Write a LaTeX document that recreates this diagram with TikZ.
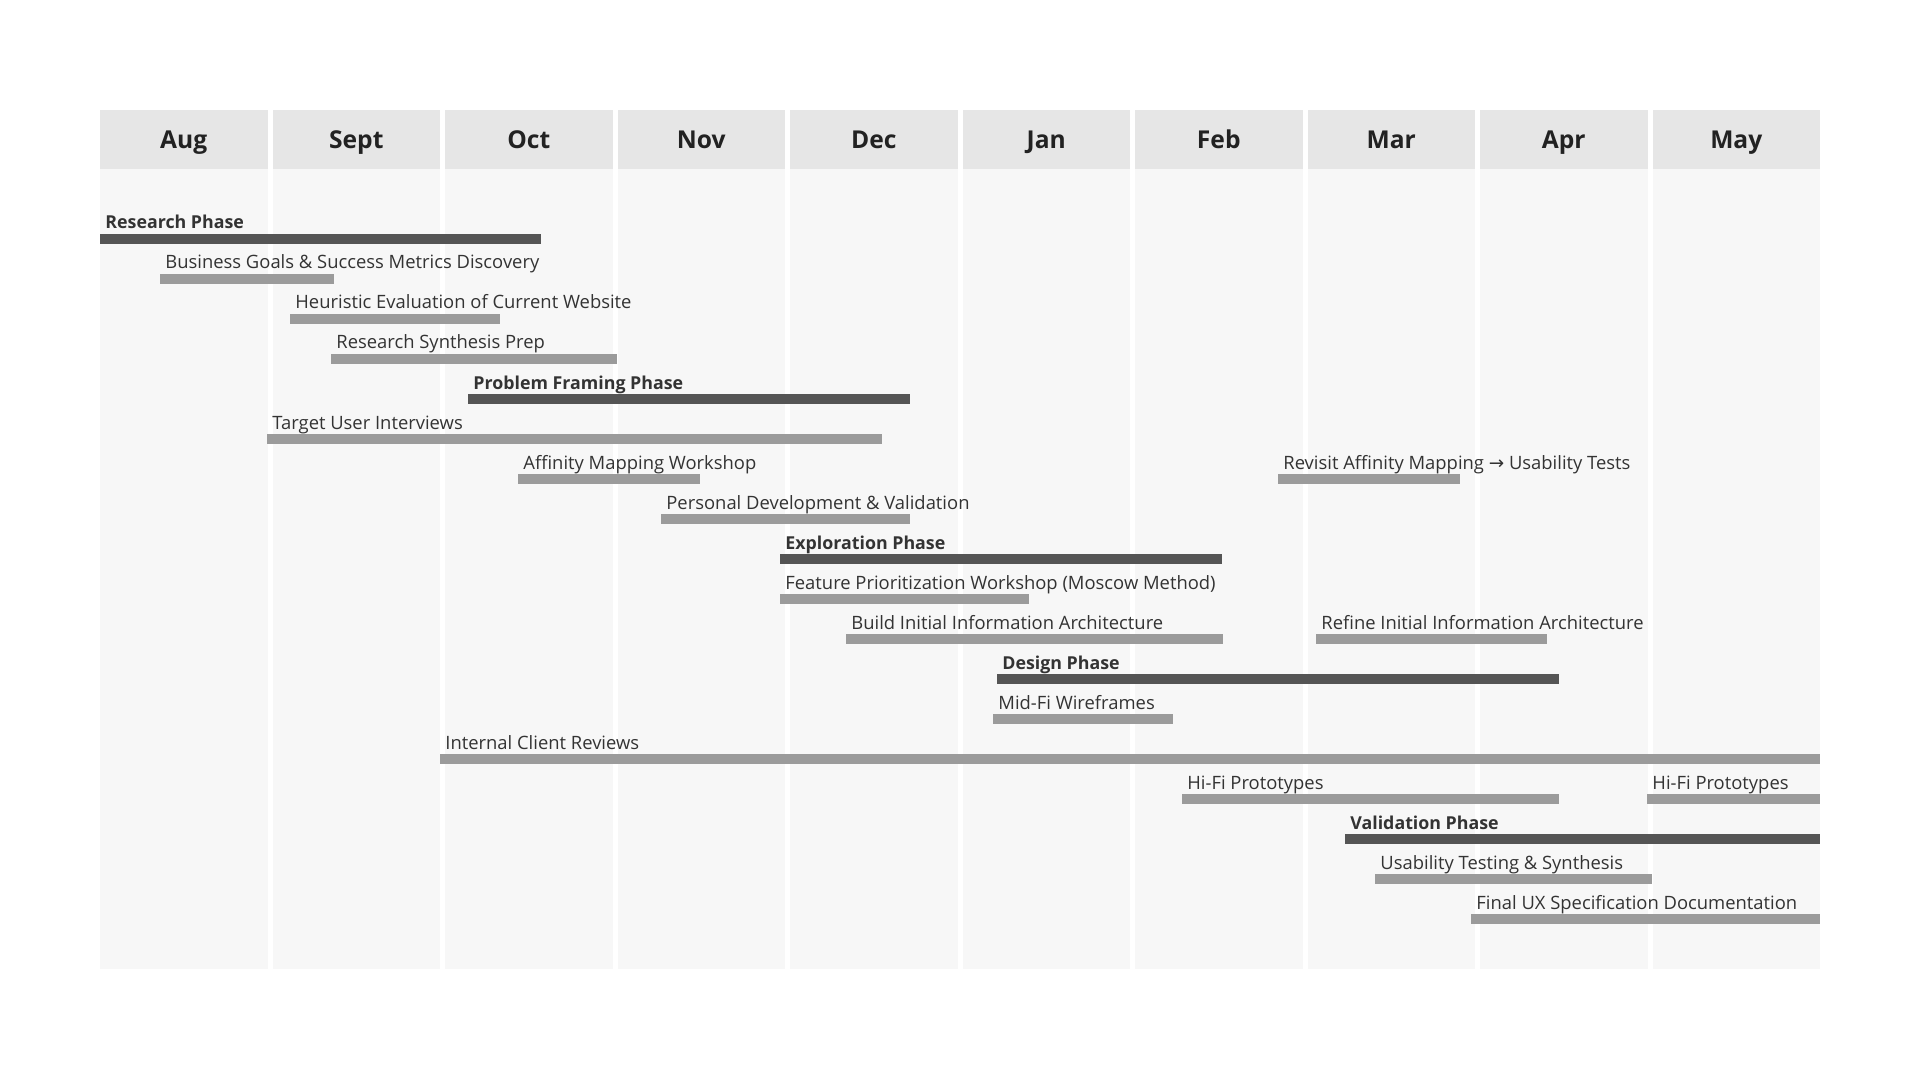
\documentclass[tikz,border=0pt]{standalone}
\usepackage{fontspec}
\setmainfont{Open Sans}
\newfontfamily\arrowfont{DejaVu Sans}
\usepackage{xcolor}
\definecolor{cHead}{HTML}{E6E6E6}
\definecolor{cBody}{HTML}{F7F7F7}
\definecolor{cPhase}{HTML}{555555}
\definecolor{cTask}{HTML}{9B9B9B}
\definecolor{cText}{HTML}{333333}
\definecolor{cMonth}{HTML}{222222}
\usepackage{tikz}
\tikzset{
  col-head/.style={fill=cHead},
  col-body/.style={fill=cBody},
  month-label/.style={anchor=base,inner sep=0pt,
    font=\fontsize{12.3}{14}\selectfont\bfseries,text=cMonth},
  bar-phase/.style={fill=cPhase},
  bar-task/.style={fill=cTask},
  label-phase/.style={anchor=base west,inner sep=0pt,
    font=\fontsize{8.9}{11}\selectfont\bfseries,text=cText},
  label-task/.style={anchor=base west,inner sep=0pt,
    font=\fontsize{9.2}{11}\selectfont,text=cText},
}

\begin{document}
\begin{tikzpicture}[x=0.5pt,y=-0.5pt]
  \fill[white] (0,0) rectangle (1920,1080);
  \useasboundingbox (0,0) rectangle (1920,1080);
  % month columns
  \foreach \m [count=\i from 0] in {Aug,Sept,Oct,Nov,Dec,Jan,Feb,Mar,Apr,May} {
    \fill[col-body] ({100+172.5*\i},169) rectangle +(167.5,800);
    \fill[col-head] ({100+172.5*\i},110) rectangle +(167.5,59);
    \node[month-label] (month-\i) at ({183.75+172.5*\i},148.5) {\m};
  }
  % phases
  \foreach \r/\a/\b/\t in {0/100/541/Research Phase,
      4/468/910/Problem Framing Phase,
      8/780/1222/Exploration Phase,
      11/997/1559/Design Phase,
      15/1345/1820/Validation Phase} {
    \fill[bar-phase] (\a,{234+40*\r}) rectangle (\b,{244+40*\r});
    \node[label-phase] (phase-\r) at ({\a+5},{229+40*\r}) {\t};
  }
  % tasks
  \foreach \r/\a/\b/\t [count=\n] in {1/160/334/Business Goals \& Success Metrics Discovery,
      2/290/500/Heuristic Evaluation of Current Website,
      3/331/617/Research Synthesis Prep,
      5/267/882/Target User Interviews,
      6/518/700/Affinity Mapping Workshop,
      6/1278/1460/Revisit Affinity Mapping {\arrowfont →} Usability Tests,
      7/661/910/Personal Development \& Validation,
      9/780/1029/Feature Prioritization Workshop (Moscow Method),
      10/846/1223/Build Initial Information Architecture,
      10/1316/1547/Refine Initial Information Architecture,
      12/993/1173/Mid-Fi Wireframes,
      13/440/1820/Internal Client Reviews,
      14/1182/1559/Hi-Fi Prototypes,
      14/1647/1820/Hi-Fi Prototypes,
      16/1375/1652/Usability Testing \& Synthesis,
      17/1471/1820/Final UX Specification Documentation} {
    \fill[bar-task] (\a,{234+40*\r}) rectangle (\b,{244+40*\r});
    \node[label-task] (task-\n) at ({\a+5},{229+40*\r}) {\t};
  }
\end{tikzpicture}
\end{document}
